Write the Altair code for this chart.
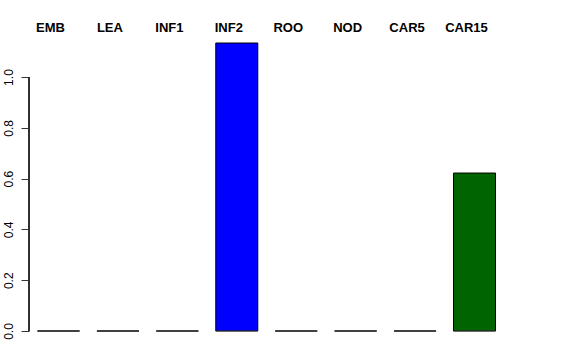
import altair as alt
import pandas as pd

categories = ["EMB", "LEA", "INF1", "INF2", "ROO", "NOD", "CAR5", "CAR15"]
values = [0, 0, 0, 1.134, 0, 0, 0, 0.622]
colors = ["#BEBEBE", "#BEBEBE", "#BEBEBE", "#0000FF", "#BEBEBE", "#BEBEBE", "#BEBEBE", "#006400"]

df = pd.DataFrame({"cat": categories, "val": values, "col": colors})

FONT = "Liberation Sans"

x = alt.X("cat:N", sort=categories, axis=None,
          scale=alt.Scale(paddingInner=0.293, paddingOuter=0.143))
yscale = alt.Scale(domain=[0, 1.134], nice=False, zero=True)

bars = alt.Chart(df).mark_bar(stroke="black", strokeWidth=1).encode(
    x=x,
    y=alt.Y("val:Q", scale=yscale,
            axis=alt.Axis(values=[0, 0.2, 0.4, 0.6, 0.8, 1.0], format=".1f",
                          domain=False, grid=False, tickSize=8, tickColor="#333",
                          labelAngle=270, labelAlign="center", labelBaseline="bottom",
                          labelPadding=6, labelFont=FONT, labelFontSize=12,
                          labelColor="black", title=None)),
    color=alt.Color("col:N", scale=None),
)

zero_lines = alt.Chart(df).mark_tick(color="#444", thickness=1, size=42).encode(
    x=x,
    y=alt.Y("datum_zero:Q", scale=yscale),
).transform_calculate(datum_zero="0")

axis_line = alt.Chart(df).mark_rule(color="#333", strokeWidth=1).encode(
    x=alt.value(0),
    y=alt.datum(0, scale=yscale),
    y2=alt.datum(1),
)

labels = alt.Chart(df).mark_text(font=FONT, fontSize=13, fontWeight="bold",
                                 align="center", baseline="middle", dx=-8,
                                 color="black").encode(
    x=x,
    y=alt.value(-15),
    text="cat:N",
)

chart = alt.layer(bars, zero_lines, axis_line, labels).properties(
    width=475, height=288,
    autosize=alt.AutoSizeParams(type="none"),
    padding={"left": 29, "top": 43, "right": 72, "bottom": 29},
).configure_view(stroke=None)

chart.save("out.html", embed_options={"renderer": "svg", "actions": False})
